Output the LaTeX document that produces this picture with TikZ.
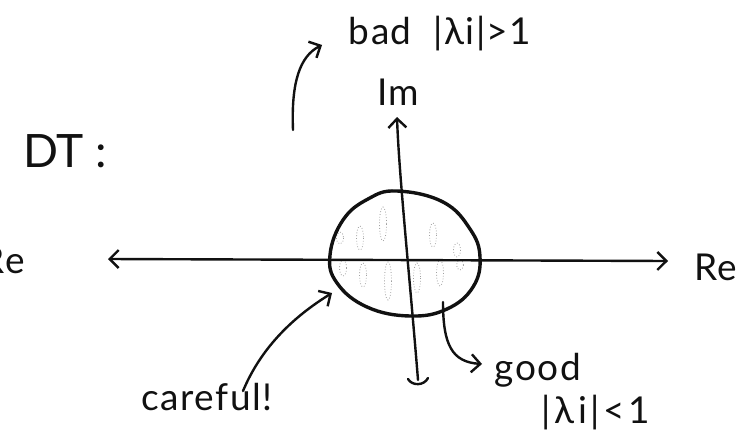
\documentclass[tikz,border=0pt]{standalone}
\usepackage{fontspec}
\setmainfont{Lato}
\usetikzlibrary{arrows.meta}
\definecolor{inkblk}{HTML}{111111}
\definecolor{inkgrey}{HTML}{A0A0A0}
\newcommand{\hwlab}{\fontsize{37}{40}\selectfont\addfontfeatures{LetterSpace=4}}
\newcommand{\hwwide}{\fontsize{37}{40}\selectfont\addfontfeatures{LetterSpace=10}}
\newcommand{\hwbig}{\fontsize{46}{50}\selectfont}
\tikzset{
  ink/.style={draw=inkblk,line width=2.4,line cap=round},
  inkarr/.style={ink,-{Straight Barb[length=9,width=18]}},
  axarr/.style={ink,{Straight Barb[length=9,width=18]}-{Straight Barb[length=9,width=18]}},
  hwtext/.style={inner sep=0,anchor=base,text=inkblk},
  hatch/.style={draw=inkgrey,line width=0.8,dotted},
}

\begin{document}
\begin{tikzpicture}[x=1pt,y=-1pt]
\useasboundingbox (0,0) rectangle (751,444);
% unit circle with its faint shading
\foreach \hx/\hy/\hr in {340/238/6,360/238/12,383/224/17,433/235/12,457/250/7,343/268/8,363/275/12,388/281/19,417/278/15,440/273/13,460/265/5}
  \draw[hatch] (\hx,\hy) ellipse (3.5 and \hr);
\draw[ink,line width=3.4] plot[smooth cycle,tension=0.7] coordinates {(330,255) (343,220) (368,199) (397,191) (443,202) (470,229) (480,257) (473,287) (447,309) (410,316) (367,307) (337,283)};
% axes
\coordinate (reW) at (108,259);
\coordinate (reE) at (668,261);
\coordinate (imN) at (397,117);
\coordinate (imS) at (418,380);
\draw[axarr] (reW) -- (reE);
\draw[inkarr] (imS) .. controls (410,280) and (399,175) .. (imN);
\draw[ink] (408,379) .. controls (412,386) and (424,386) .. (428,378);
% labels
\node[hwtext] (imlab) at (398,105) {\hwlab Im};
\node[hwtext] (relab) at (716,280) {\hwlab Re};
\node[hwtext,anchor=base east] (relabcut) at (25,273) {\hwlab Re};
\node[hwtext] (dtlab) at (65,167) {\hwbig DT :};
\node[hwtext] (badlab) at (440,45) {\hwlab bad\ \ |λi|>1};
\node[hwtext] (goodlab) at (538,380) {\hwlab good};
\node[hwtext] (goodcond) at (596,423) {\hwwide |λi|<1};
\node[hwtext] (carelab) at (207,410) {\hwlab careful!};
% pointers
\coordinate (badtail) at (293,130);
\coordinate (badtip) at (322,45);
\coordinate (caretail) at (243,391);
\coordinate (caretip) at (332,293);
\coordinate (goodtail) at (443,302);
\coordinate (goodtip) at (482,364);
\draw[inkarr] (badtail) .. controls (291,82) and (300,56) .. (badtip);
\draw[inkarr] (caretail) .. controls (258,355) and (285,322) .. (caretip);
\draw[inkarr] (goodtail) .. controls (443,345) and (452,362) .. (goodtip);
\end{tikzpicture}
\end{document}
